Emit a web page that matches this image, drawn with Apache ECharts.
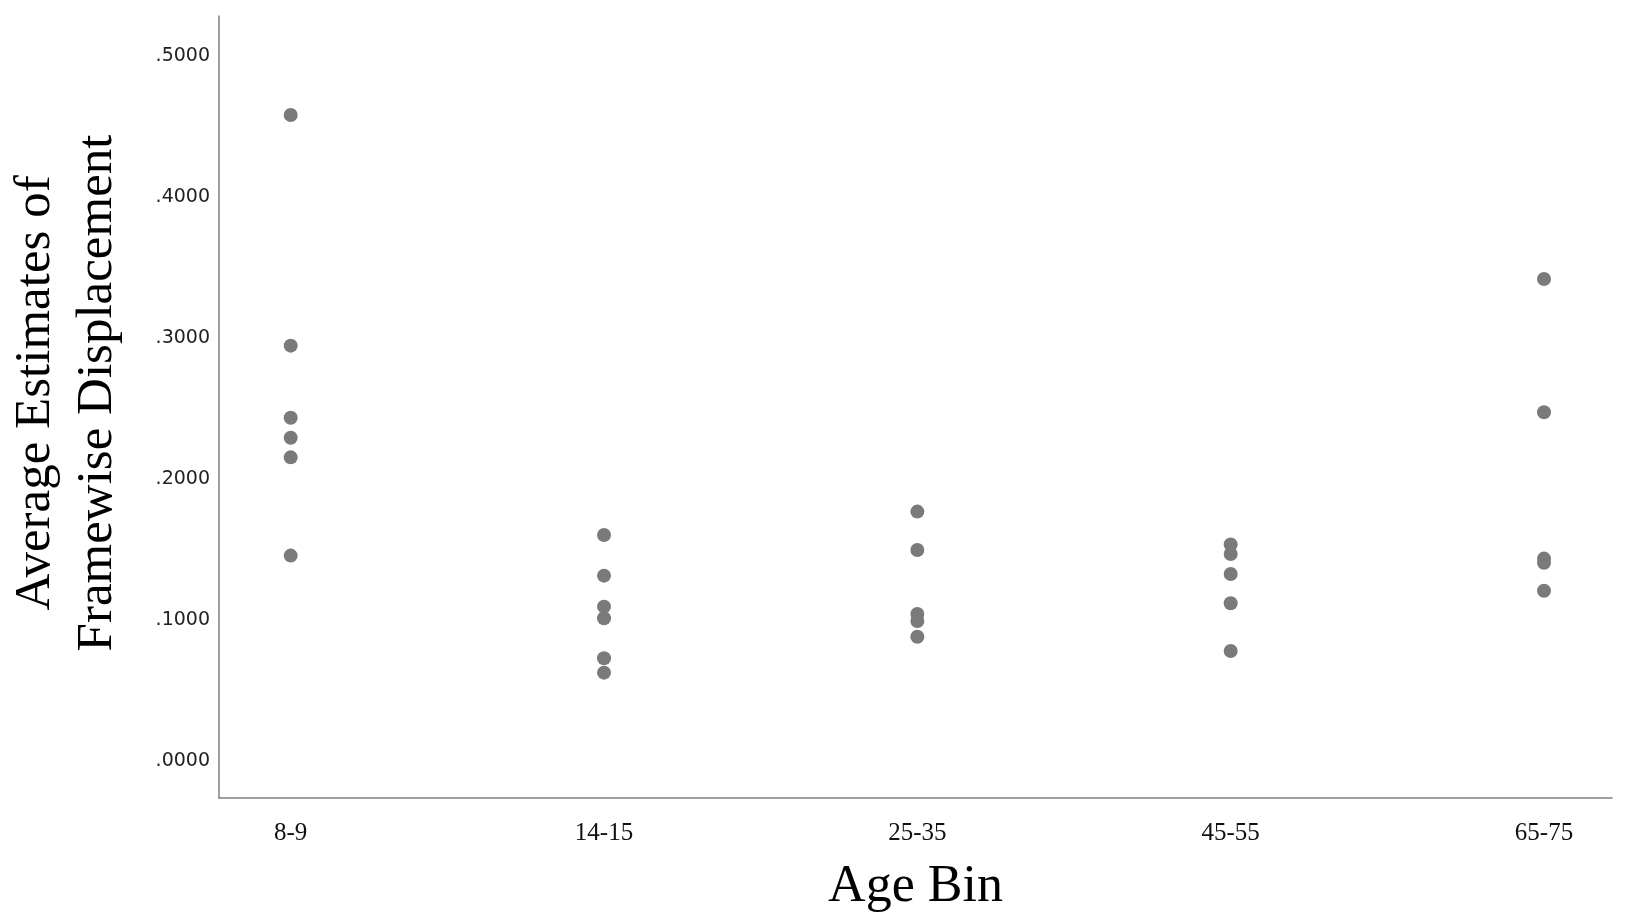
<!DOCTYPE html>
<html>
<head>
<meta charset="utf-8">
<script src="https://cdn.jsdelivr.net/npm/echarts@6/dist/echarts.min.js"></script>
<style>
html,body{margin:0;padding:0;background:#fff;}
#chart{width:1628px;height:924px;}
</style>
</head>
<body>
<div id="chart"></div>
<script>
// Data
var categories = ['8-9', '14-15', '25-35', '45-55', '65-75'];
var values_8_9   = [0.4585, 0.2949, 0.2438, 0.2296, 0.2157, 0.1460];
var values_14_15 = [0.1606, 0.1318, 0.1098, 0.1016, 0.0732, 0.0630];
var values_25_35 = [0.1772, 0.1500, 0.1046, 0.0996, 0.0885];
var values_45_55 = [0.1539, 0.1471, 0.1330, 0.1122, 0.0784];
var values_65_75 = [0.3422, 0.2477, 0.1439, 0.1409, 0.1211];
var yTickValues = [0, 0.1, 0.2, 0.3, 0.4, 0.5];
var yTickLabels = ['.0000', '.1000', '.2000', '.3000', '.4000', '.5000'];
var xTitle = 'Age Bin';
var yTitleLines = ['Average Estimates of', 'Framewise Displacement'];

var groups = [values_8_9, values_14_15, values_25_35, values_45_55, values_65_75];
var points = [];
groups.forEach(function (arr, i) {
  arr.forEach(function (v) { points.push([i, v]); });
});

var chart = echarts.init(document.getElementById('chart'), null, {renderer: 'canvas'});
chart.setOption({
  backgroundColor: '#ffffff',
  animation: false,
  grid: {left: 219, right: 16, top: 16, bottom: 126, containLabel: false},
  xAxis: {
    type: 'value',
    min: -0.2288,
    max: 4.217,
    splitLine: {show: false},
    axisTick: {show: false},
    axisLine: {show: true, onZero: false, lineStyle: {color: '#808080', width: 1.5}},
    axisLabel: {
      customValues: [0, 1, 2, 3, 4],
      formatter: function (v) { return categories[Math.round(v)] || ''; },
      fontFamily: 'Liberation Serif', fontSize: 25, color: '#111', margin: 23
    },
    name: xTitle,
    nameLocation: 'middle',
    nameGap: 63,
    nameTextStyle: {fontFamily: 'Liberation Serif', fontSize: 52, color: '#000'}
  },
  yAxis: {
    type: 'value',
    min: -0.0259,
    max: 0.5287,
    splitLine: {show: false},
    axisTick: {show: false},
    axisLine: {show: true, onZero: false, lineStyle: {color: '#808080', width: 1.5}},
    axisLabel: {
      customValues: yTickValues,
      formatter: function (v) {
        var idx = yTickValues.findIndex(function (t) { return Math.abs(t - v) < 1e-6; });
        return idx >= 0 ? yTickLabels[idx] : '';
      },
      fontFamily: 'DejaVu Sans', fontSize: 19, color: '#222', margin: 9,
      padding: [4, 0, 0, 0]
    }
  },
  graphic: [{
    type: 'text',
    x: 67,
    y: 393,
    rotation: Math.PI / 2,
    style: {
      text: yTitleLines.join('\n'),
      font: '51px "Liberation Serif"',
      fill: '#000',
      align: 'center',
      verticalAlign: 'middle',
      lineHeight: 62
    }
  }],
  series: [{
    type: 'scatter',
    data: points,
    symbol: 'circle',
    symbolSize: 14,
    itemStyle: {color: '#7a7a7a', opacity: 1}
  }]
});
</script>
</body>
</html>
